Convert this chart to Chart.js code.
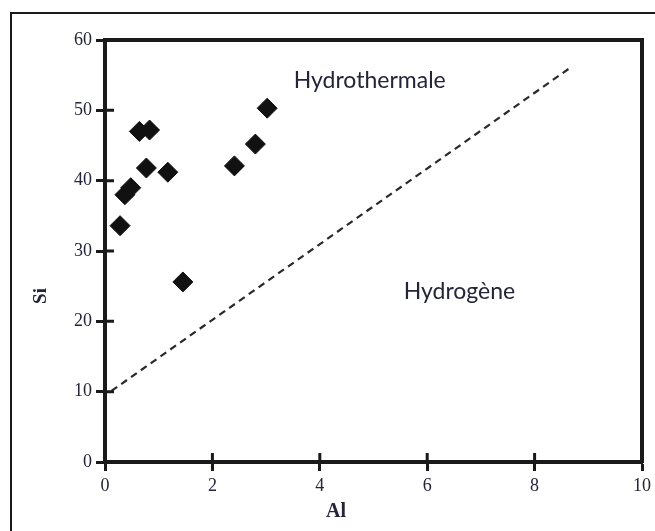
<!DOCTYPE html>
<html>
<head>
<meta charset="utf-8">
<script src="https://cdn.jsdelivr.net/npm/chart.js@4"></script>
<style>
  html, body { margin: 0; padding: 0; background: #fff; overflow: hidden; }
  #wrap { position: relative; width: 655px; height: 531px; }
  #frame { position: absolute; left: 10px; top: 12px; width: 700px; height: 600px; border: 2px solid #1a1a1a; }
  #chart { position: absolute; left: 0; top: 0; }
</style>
</head>
<body>
<div id="wrap">
  <div id="frame"></div>
  <canvas id="chart" width="655" height="531"></canvas>
</div>
<script>
// samples: Al (x) vs Si (y)
const alValues = [0.28, 0.37, 0.48, 0.64, 0.83, 0.77, 1.17, 1.45, 2.41, 2.80, 3.02];
const siValues = [33.6, 38.0, 39.0, 47.0, 47.2, 41.8, 41.2, 25.6, 42.1, 45.2, 50.3];

// dashed boundary between the two fields
const lineAl = [0.12, 8.69];
const lineSi = [10.1, 56.2];

const xTicks = [0, 2, 4, 6, 8, 10];
const yTicks = [0, 10, 20, 30, 40, 50, 60];

const fieldLabels = ["Hydrothermale", "Hydrogène"];
const fieldAl = [4.93, 6.6];
const fieldSi = [54.3, 24.2];

const axisColor = "#1a1a1a";
const textColor = "#24243a";
const serif = "'Liberation Serif', 'Times New Roman', serif";

const points = alValues.map((v, i) => ({ x: v, y: siValues[i] }));
const boundary = lineAl.map((v, i) => ({ x: v, y: lineSi[i] }));

const innerTicks = {
  id: "innerTicks",
  afterDraw(chart) {
    const ctx = chart.ctx;
    const { left, bottom } = chart.chartArea;
    const xs = chart.scales.x, ys = chart.scales.y;
    ctx.save();
    ctx.strokeStyle = axisColor;
    ctx.lineWidth = 3;
    ctx.beginPath();
    for (const t of yTicks) {
      const py = ys.getPixelForValue(t);
      ctx.moveTo(left, py);
      ctx.lineTo(left + 9, py);
    }
    for (const t of xTicks) {
      const px = xs.getPixelForValue(t);
      ctx.moveTo(px, bottom);
      ctx.lineTo(px, bottom - 9);
    }
    ctx.stroke();

    // field names
    ctx.fillStyle = textColor;
    ctx.font = "23px Lato, 'Open Sans', sans-serif";
    ctx.textAlign = "center";
    ctx.textBaseline = "middle";
    fieldLabels.forEach((txt, i) => {
      ctx.fillText(txt, xs.getPixelForValue(fieldAl[i]), ys.getPixelForValue(fieldSi[i]));
    });

    // axis titles
    ctx.font = "bold 20px " + serif;
    ctx.fillText("Al", 336, 512);
    ctx.save();
    ctx.translate(41, 296);
    ctx.rotate(-Math.PI / 2);
    ctx.font = "bold 19px " + serif;
    ctx.fillText("Si", 0, 0);
    ctx.restore();
    ctx.restore();
  }
};

new Chart(document.getElementById("chart"), {
  type: "scatter",
  data: {
    datasets: [
      {
        label: "Échantillons",
        data: points,
        pointStyle: "rectRot",
        pointRadius: 10,
        pointHoverRadius: 10,
        backgroundColor: "#111",
        borderColor: "#111",
        borderWidth: 1
      },
      {
        type: "line",
        label: "Limite",
        data: boundary,
        borderColor: "#2a2a2a",
        borderWidth: 2.2,
        borderDash: [7, 5],
        pointRadius: 0,
        fill: false
      }
    ]
  },
  options: {
    responsive: false,
    animation: false,
    devicePixelRatio: 1,
    layout: { padding: 0 },
    plugins: { legend: { display: false }, tooltip: { enabled: false } },
    scales: {
      x: {
        type: "linear",
        min: 0, max: 10,
        afterFit: s => { s.height = 69; },
        afterBuildTicks: s => { s.ticks = xTicks.map(v => ({ value: v })); },
        border: { color: axisColor, width: 4 },
        grid: { drawOnChartArea: false, tickLength: 9, tickWidth: 3, tickColor: axisColor },
        ticks: { color: textColor, font: { family: serif, size: 18 }, padding: 4 }
      },
      y: {
        type: "linear",
        min: 0, max: 60,
        afterFit: s => { s.width = 105; },
        afterBuildTicks: s => { s.ticks = yTicks.map(v => ({ value: v })); },
        border: { color: axisColor, width: 4 },
        grid: { drawOnChartArea: false, tickLength: 9, tickWidth: 3, tickColor: axisColor },
        ticks: { color: textColor, font: { family: serif, size: 18 }, padding: 4 }
      },
      x2: {
        type: "linear",
        position: "top",
        min: 0, max: 10,
        afterFit: s => { s.height = 40; },
        border: { color: axisColor, width: 4 },
        grid: { display: false },
        ticks: { display: false }
      },
      y2: {
        type: "linear",
        position: "right",
        min: 0, max: 60,
        afterFit: s => { s.width = 10; },
        border: { color: axisColor, width: 4 },
        grid: { display: false },
        ticks: { display: false }
      }
    }
  },
  plugins: [innerTicks]
});
</script>
</body>
</html>
